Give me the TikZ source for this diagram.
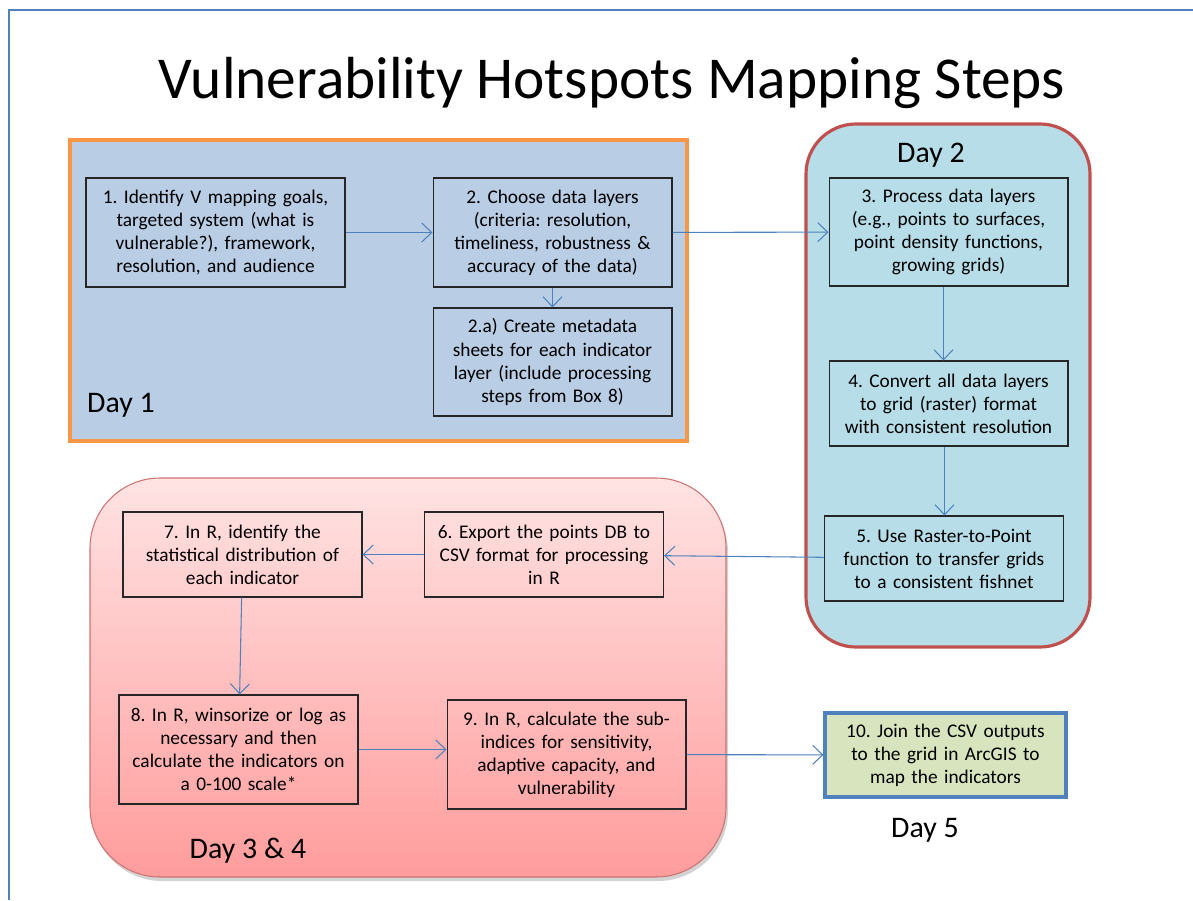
\documentclass[tikz,border=0pt]{standalone}
\usepackage{fontspec}
\setmainfont{Carlito}
\frenchspacing
\usetikzlibrary{arrows.meta,shadows}
\definecolor{frameblue}{HTML}{4F81BD}
\definecolor{linkblue}{HTML}{4F81BD}
\definecolor{dayonefill}{HTML}{B9CDE5}
\definecolor{dayoneedge}{HTML}{F79646}
\definecolor{daytwofill}{HTML}{B7DEE8}
\definecolor{dayedge}{HTML}{C0504D}
\definecolor{pinktop}{HTML}{FFE3E3}
\definecolor{pinkbottom}{HTML}{FF9C9C}
\definecolor{greenfill}{HTML}{D7E4BD}
\begin{document}
\begin{tikzpicture}[x=0.02cm, y=-0.02cm, >={Straight Barb[length=2mm,width=3.8mm]},
    stepbox/.style={draw=black!85, line width=0.6pt, minimum width=4.78cm, text width=4.7cm,
        align=center, inner sep=0pt, font=\fontsize{11}{13.1}\selectfont},
    daylabel/.style={font=\fontsize{17}{20}\selectfont},
    link/.style={draw=linkblue, line width=0.6pt, ->}]
    \useasboundingbox (0,0) rectangle (1193,900);
    % outer frame
    \draw[frameblue, line width=1.1pt] (9,900) -- (9,10) -- (1193,10);
    \node[font=\fontsize{33.8}{40}\selectfont] (title) at (612,83) {Vulnerability Hotspots Mapping Steps};
    % day areas
    \draw[fill=dayonefill, draw=dayoneedge, line width=1.8pt] (70,140) rectangle (687,441);
    \draw[fill=daytwofill, draw=dayedge, line width=1.8pt, rounded corners=1cm] (806,124) rectangle (1090,647);
    \path[draw=dayedge!80, line width=0.6pt, top color=pinktop, bottom color=pinkbottom, rounded corners=1.4cm,
        drop shadow={opacity=0.35, shadow xshift=0.4mm, shadow yshift=-0.8mm}] (90,478) rectangle (726,877);
    \node[daylabel] (day1) at (121,405) {Day 1};
    \node[daylabel] (day2) at (931,155) {Day 2};
    \node[daylabel] (day34) at (248,851) {Day 3 \& 4};
    \node[daylabel] (day5) at (925,830) {Day 5};
    % steps
    \node[stepbox, minimum width=5.18cm, text width=5.1cm, minimum height=2.18cm] (s1) at (215.5,232.5) {1. Identify V mapping goals,\\ targeted system (what is\\ vulnerable?), framework,\\ resolution, and audience};
    \node[stepbox, minimum height=2.18cm] (s2) at (552.5,232.5) {2. Choose data layers\\ (criteria: resolution,\\ timeliness, robustness \&\\ accuracy of the data)};
    \node[stepbox, minimum height=2.16cm] (s2a) at (552.5,362) {2.a) Create metadata\\ sheets for each indicator\\ layer (include processing\\ steps from Box 8)};
    \node[stepbox, minimum height=2.16cm] (s3) at (948.5,232) {3. Process data layers\\ (e.g., points to surfaces,\\ point density functions,\\ growing grids)};
    \node[stepbox, minimum height=1.7cm] (s4) at (948.5,403.5) {4. Convert all data layers\\ to grid (raster) format\\ with consistent resolution};
    \node[stepbox, minimum height=1.7cm] (s5) at (944,558.5) {5. Use Raster-to-Point\\ function to transfer grids\\ to a consistent fishnet};
    \node[stepbox, minimum height=1.7cm] (s6) at (544,554.5) {6. Export the points DB to\\ CSV format for processing\\ in R};
    \node[stepbox, minimum height=1.7cm] (s7) at (242.5,554.5) {7. In R, identify the\\ statistical distribution of\\ each indicator};
    \node[stepbox, minimum height=2.18cm] (s8) at (238.5,749.5) {8. In R, winsorize or log as\\ necessary and then\\ calculate the indicators on\\ a 0-100 scale*};
    \node[stepbox, minimum height=2.18cm] (s9) at (566.5,754.5) {9. In R, calculate the sub-\\ indices for sensitivity,\\ adaptive capacity, and\\ vulnerability};
    \node[stepbox, draw=frameblue, line width=1.8pt, fill=greenfill, minimum width=4.82cm, minimum height=1.68cm] (s10) at (945.5,755) {10. Join the CSV outputs\\ to the grid in ArcGIS to\\ map the indicators};
    % links
    \draw[link] (s1) -- (s2);
    \draw[link] (s2) -- (s3);
    \draw[link] (s2) -- (s2a);
    \draw[link] (s3.south) ++(-5,0) coordinate (s3out) -- (s3out |- s4.north);
    \draw[link] (s4.south) ++(-4,0) coordinate (s4out) -- (s4out |- s5.north);
    \draw[link] (s5) -- (s6);
    \draw[link] (s6) -- (s7);
    \draw[link] (s7) -- (s8);
    \draw[link] (s8.east) -- (s8.east -| s9.west);
    \draw[link] (s9) -- (s10);
\end{tikzpicture}
\end{document}
